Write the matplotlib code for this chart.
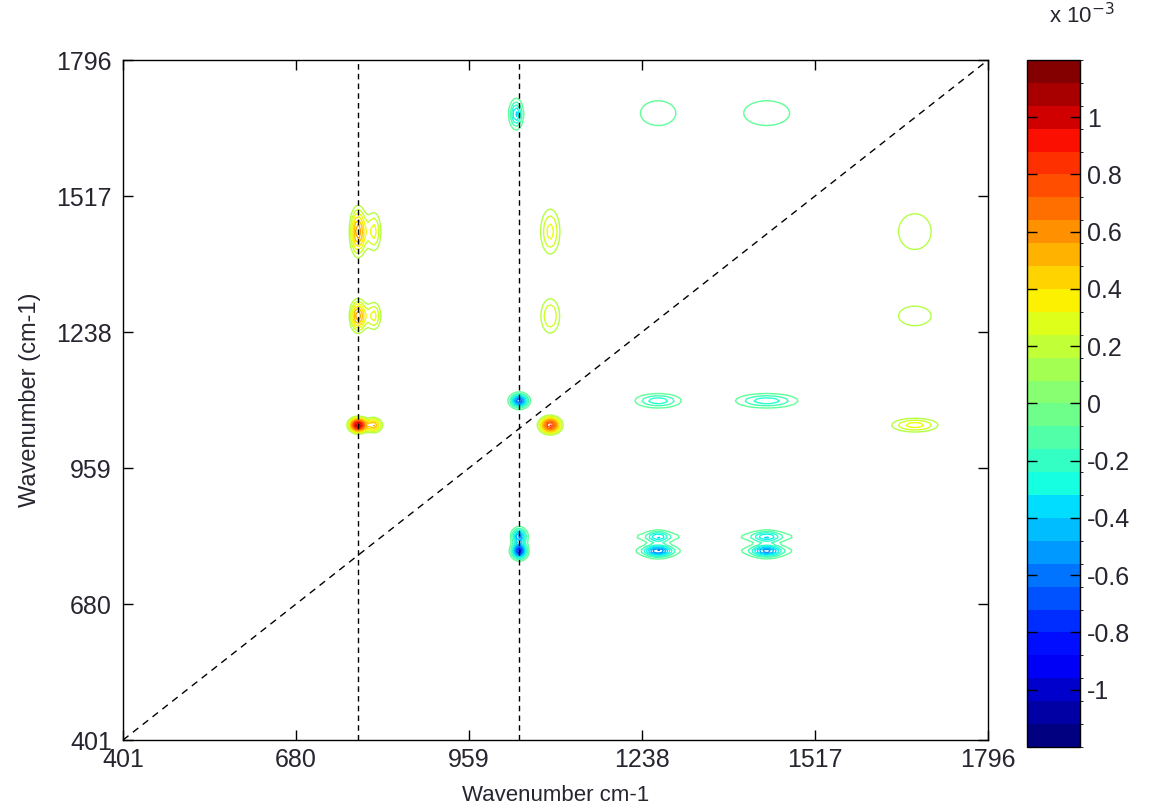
import numpy as np
import matplotlib
matplotlib.use("Agg")
import matplotlib.pyplot as plt
from matplotlib.colors import Normalize, BoundaryNorm
from matplotlib.cm import ScalarMappable

plt.rcParams['font.family'] = ['Liberation Sans', 'DejaVu Sans']

# Spectral window and ticks (cm-1)
wn_min, wn_max = 401, 1796
tick_values = [401, 680, 959, 1238, 1517, 1796]
marker_lines = [780, 1040]

# Cross peaks of the 2D correlation map: centre (cm-1), amplitude (x 1e-3), width (cm-1)
peak_x = [780, 806, 780, 806, 780, 806,
          1035, 1040, 1040, 1040,
          1090, 1090, 1090,
          1264, 1264, 1264, 1264, 1264, 1264,
          1439, 1439, 1439, 1439, 1439, 1439,
          1678, 1678, 1678]
peak_y = [1444, 1444, 1271, 1271, 1047, 1047,
          1685, 1097, 789, 819,
          1444, 1271, 1047,
          1687, 1097, 789, 818, 789, 818,
          1687, 1097, 789, 818, 789, 818,
          1444, 1271, 1047]
peak_amp = [0.62, 0.35, 0.62, 0.35, 1.15, 0.55,
            -0.42, -0.75, -0.95, -0.60,
            0.35, 0.32, 0.90,
            -0.14, -0.30, -0.55, -0.28, -0.12, -0.14,
            -0.14, -0.30, -0.50, -0.28, -0.12, -0.14,
            0.22, 0.22, 0.36]
peak_sx = [8.6, 8.5, 8.6, 8.5, 9.0, 8.5,
           6.5, 8.5, 7, 7,
           12.4, 12.8, 11.2,
           27, 23, 14, 11, 30, 32,
           35, 31, 15, 14, 38, 38,
           33, 33, 29.5]
peak_sy = [33, 31, 22, 22, 9.3, 10,
           18, 8.5, 9.5, 10,
           37, 30, 11,
           24, 9, 8, 8, 7, 7,
           24, 9, 8, 8, 7, 7,
           46, 25, 11]

# Contour levels (x 1e-3)
contour_levels = np.round(np.concatenate([np.arange(-1.12, -0.079, 0.08),
                                          np.arange(0.16, 1.121, 0.08)]), 3)
cbar_bounds = np.linspace(-1.2, 1.2, 31)
cbar_ticks = [-1, -0.8, -0.6, -0.4, -0.2, 0, 0.2, 0.4, 0.6, 0.8, 1]
cbar_labels = ['-1', '-0.8', '-0.6', '-0.4', '-0.2', '0', '0.2', '0.4', '0.6', '0.8', '1']

# Build the synchronous map on the wavenumber grid
wn = np.linspace(wn_min, wn_max, 280)
X, Y = np.meshgrid(wn, wn)
Z = np.zeros_like(X)
for x0, y0, a, sx, sy in zip(peak_x, peak_y, peak_amp, peak_sx, peak_sy):
    Z += a * np.exp(-((X - x0) ** 2 / (2 * sx ** 2) + (Y - y0) ** 2 / (2 * sy ** 2)))

text_color = '#262630'
fig = plt.figure(figsize=(11.51, 8.10), dpi=100)
ax = fig.add_axes([0.1069, 0.0864, 0.7515, 0.8395])
cax = fig.add_axes([0.8923, 0.0778, 0.0460, 0.8482])

norm = Normalize(vmin=-1.2, vmax=1.2)
ax.contour(X, Y, Z, levels=contour_levels, cmap='jet', norm=norm, linewidths=1.0)

# Reference lines
ax.plot([wn_min, wn_max], [wn_min, wn_max], color='black', lw=1.0, ls=(0, (5, 4)))
for xv in marker_lines:
    ax.axvline(xv, color='black', lw=1.0, ls=(0, (4, 3)))

ax.set_xlim(wn_min, wn_max)
ax.set_ylim(wn_min, wn_max)
ax.set_xticks(tick_values)
ax.set_yticks(tick_values)
ax.tick_params(direction='in', length=7, width=1, top=True, right=True,
               labelsize=18, labelcolor=text_color)
ax.tick_params(axis='x', pad=6)
ax.tick_params(axis='y', pad=8)
for sp in ax.spines.values():
    sp.set_linewidth(1.0)
ax.set_xlabel('Wavenumber cm-1', fontsize=16, color=text_color, labelpad=9)
ax.set_ylabel('Wavenumber (cm-1)', fontsize=17, color=text_color, labelpad=11)

sm = ScalarMappable(norm=BoundaryNorm(cbar_bounds, 256), cmap='jet')
sm.set_array([])
cb = fig.colorbar(sm, cax=cax, ticks=cbar_ticks)
cb.ax.set_yticklabels(cbar_labels)
cb.ax.tick_params(direction='in', length=7, width=1, left=True, right=True,
                  labelsize=18, labelcolor=text_color, pad=5)
cb.outline.set_linewidth(1.0)
fig.text(0.911, 0.981, r'x 10$^{-3}$', fontsize=16, color=text_color, ha='left', va='center')

fig.savefig('out.png', dpi=100)
